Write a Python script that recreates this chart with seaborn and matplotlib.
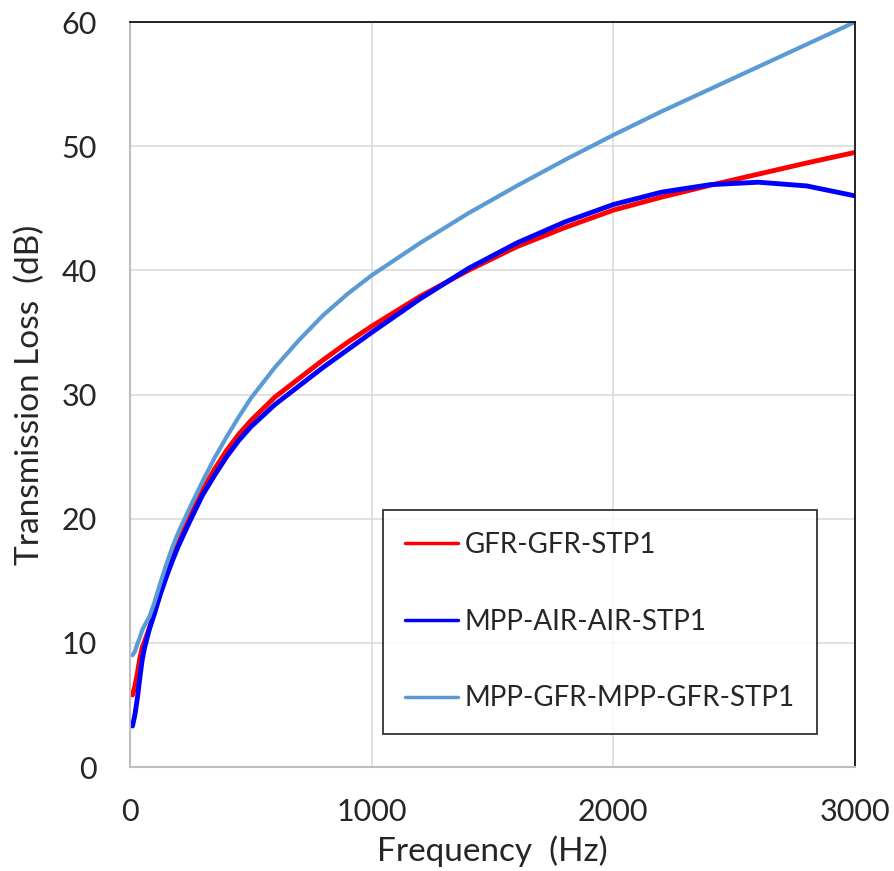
import numpy as np
import pandas as pd
import seaborn as sns
import matplotlib.pyplot as plt

# values
freq = [10, 20, 30, 40, 50, 60, 80, 100, 125, 150, 175, 200, 250, 300, 350, 400, 450, 500,
        600, 700, 800, 900, 1000, 1200, 1400, 1600, 1800, 2000, 2200, 2400, 2600, 2800, 3000]
gfr_gfr = [5.8, 6.5, 7.5, 8.7, 9.6, 10.1, 11.2, 12.4, 14.0, 15.5, 16.9, 18.1, 20.3, 22.3, 24.0,
           25.5, 26.8, 27.9, 29.8, 31.3, 32.8, 34.2, 35.5, 37.9, 40.0, 41.9, 43.45, 44.85,
           45.9, 46.85, 47.75, 48.65, 49.5]
mpp_air = [3.3, 4.2, 5.5, 7.1, 8.6, 9.6, 11.1, 12.3, 13.9, 15.3, 16.6, 17.8, 19.9, 21.9, 23.5,
           25.0, 26.3, 27.4, 29.2, 30.7, 32.2, 33.6, 35.0, 37.7, 40.15, 42.2, 43.9, 45.3,
           46.3, 46.9, 47.1, 46.8, 46.0]
mpp_gfr = [9.0, 9.3, 9.9, 10.4, 11.0, 11.4, 12.1, 13.2, 14.8, 16.3, 17.7, 18.9, 21.0, 23.0, 24.9,
           26.6, 28.2, 29.7, 32.2, 34.4, 36.4, 38.1, 39.6, 42.2, 44.6, 46.8, 48.9, 50.9,
           52.8, 54.6, 56.4, 58.2, 60.0]

labels = ['GFR-GFR-STP1', 'MPP-AIR-AIR-STP1', 'MPP-GFR-MPP-GFR-STP1']
colors = ['#FF0000', '#0000FF', '#5B9BD5']
widths = [3.5, 3.5, 3.0]

sns.set_style('white')
plt.rcParams['font.family'] = ['Lato', 'DejaVu Sans']

fig, ax = plt.subplots(figsize=(8.95, 8.71), dpi=100)
fig.subplots_adjust(left=0.1453, right=0.9553, bottom=0.1194, top=0.9747)

for vals, lab, col, lw in zip([gfr_gfr, mpp_air, mpp_gfr], labels, colors, widths):
    df = pd.DataFrame({'Frequency': freq, 'TL': vals})
    sns.lineplot(data=df, x='Frequency', y='TL', color=col, linewidth=lw, label=lab, ax=ax)

ax.set_xlim(0, 3000)
ax.set_ylim(0, 60)
ax.set_xticks([0, 1000, 2000, 3000])
ax.set_yticks(np.arange(0, 61, 10))
ax.grid(True, color='#D9D9D9', linewidth=1.1)
ax.set_axisbelow(True)
ax.tick_params(axis='both', length=0, labelsize=22)
ax.tick_params(axis='x', pad=22)
ax.tick_params(axis='y', pad=24)

for s in ['left', 'bottom']:
    ax.spines[s].set_color('#BFBFBF')
    ax.spines[s].set_linewidth(1.5)
for s in ['top', 'right']:
    ax.spines[s].set_color('black')
    ax.spines[s].set_linewidth(1.2)

ax.set_xlabel('Frequency  (Hz)', fontsize=24)
ax.set_ylabel('Transmission Loss  (dB)', fontsize=24)
ax.xaxis.set_label_coords(0.4993, -0.1128)
ax.xaxis.label.set_va('center')
ax.yaxis.set_label_coords(-0.138, 0.5)
ax.yaxis.label.set_va('center')

leg = ax.legend(loc='upper left', bbox_to_anchor=(0.349, 0.345), borderaxespad=0,
                fontsize=20, frameon=True, fancybox=False, edgecolor='black',
                labelspacing=1.82, borderpad=0.8, handlelength=1.9, handletextpad=0.25)
leg.get_frame().set_linewidth(1.3)
for ln in leg.get_lines():
    ln.set_linewidth(2.5)

fig.savefig('out.png', dpi=100)
